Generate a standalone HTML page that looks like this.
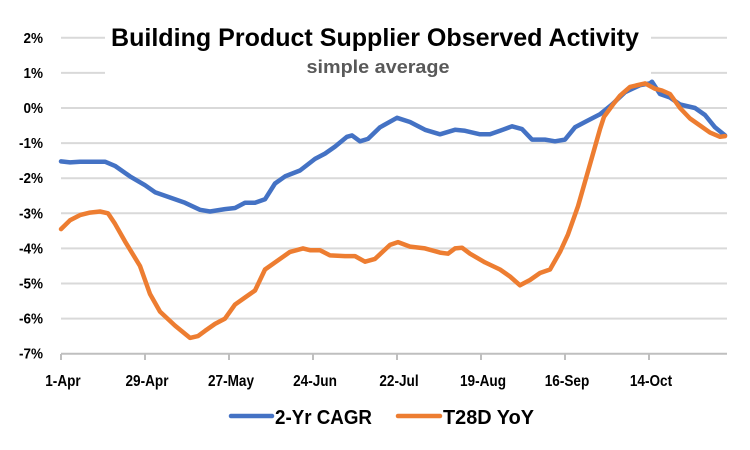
<!DOCTYPE html>
<html><head><meta charset="utf-8"><style>
body{margin:0;background:#fff;}
svg{display:block;font-family:"Liberation Sans",sans-serif;}
</style></head><body>
<svg id="chart" width="750" height="450"></svg>
<script>
const yTicks=[2,1,0,-1,-2,-3,-4,-5,-6,-7];
const xTickLabels=["1-Apr","29-Apr","27-May","24-Jun","22-Jul","19-Aug","16-Sep","14-Oct"];
const xTickDays=[0,28,56,84,112,140,168,196];
const blueX=[61,70,80,105,115,130,145,155,170,185,200,210,225,235,245,255,265,275,285,300,315,325,335,347,352,360,368,380,397,410,425,440,455,465,480,490,500,512,522,532,545,555,565,575,585,600,612,625,640,650,652,660,670,680,695,705,715,725];
const blueY=[-1.52,-1.55,-1.53,-1.53,-1.65,-1.95,-2.2,-2.4,-2.55,-2.7,-2.9,-2.95,-2.88,-2.85,-2.7,-2.7,-2.6,-2.15,-1.95,-1.78,-1.45,-1.3,-1.1,-0.82,-0.78,-0.95,-0.88,-0.55,-0.28,-0.4,-0.62,-0.75,-0.62,-0.65,-0.75,-0.75,-0.65,-0.52,-0.6,-0.9,-0.9,-0.95,-0.9,-0.55,-0.4,-0.18,0.1,0.45,0.65,0.7,0.75,0.4,0.3,0.1,0,-0.2,-0.55,-0.78];
const orangeX=[61,70,80,90,100,108,115,125,140,150,160,175,190,198,205,215,225,235,245,255,265,275,290,303,310,320,330,345,355,365,375,390,398,410,425,440,448,455,462,470,485,500,510,520,530,540,550,560,568,578,590,600,604,613,620,630,645,655,662,670,680,690,700,710,720,725];
const orangeY=[-3.45,-3.2,-3.05,-2.98,-2.95,-3.0,-3.3,-3.8,-4.5,-5.3,-5.8,-6.2,-6.55,-6.5,-6.35,-6.15,-6.0,-5.6,-5.4,-5.2,-4.6,-4.4,-4.1,-4.0,-4.05,-4.05,-4.2,-4.22,-4.22,-4.38,-4.3,-3.9,-3.82,-3.95,-4.0,-4.12,-4.15,-4.0,-3.98,-4.15,-4.4,-4.6,-4.8,-5.05,-4.9,-4.7,-4.6,-4.1,-3.6,-2.8,-1.6,-0.6,-0.25,0.1,0.35,0.6,0.7,0.55,0.5,0.4,0.0,-0.3,-0.5,-0.7,-0.82,-0.8];
const NS="http://www.w3.org/2000/svg";
const svg=document.getElementById('chart');
const X0=61,X1=727;
function yPos(v){return 108-v*35.1;}
function xDay(d){return 61+3*d;}
function el(t,a,txt){const e=document.createElementNS(NS,t);for(const k in a)e.setAttribute(k,a[k]);if(txt!==undefined)e.textContent=txt;svg.appendChild(e);return e;}
yTicks.forEach(v=>{
 const g=el('line',{x1:X0,x2:X1,y1:yPos(v),y2:yPos(v),stroke:v===-7?'#bfbfbf':'#d9d9d9','stroke-width':2});
 
 
 const t=el('text',{x:43,y:yPos(v)+5,'text-anchor':'end','font-size':15,'font-weight':'bold',fill:'#000',transform:'translate(43,0) scale(0.9,1) translate(-43,0)'},v+'%');
 
 
});
xTickDays.forEach((d,i)=>{
 const tk=el('line',{x1:xDay(d),x2:xDay(d),y1:354,y2:360,stroke:'#bfbfbf','stroke-width':2});
 
 
 const cx=xDay(d)+2;
 const t=el('text',{x:cx,y:386,'text-anchor':'middle','font-size':16,'font-weight':'bold',fill:'#000',transform:'translate('+cx+',0) scale(0.85,1) translate('+(-cx)+',0)'},xTickLabels[i]);
 
 
});
const bg=el('rect',{x:105,y:12,width:546,height:80,fill:'#fff'});


const title=el('text',{x:375,y:46,'text-anchor':'middle','font-size':25,'font-weight':'bold',fill:'#000',textLength:528,lengthAdjust:'spacingAndGlyphs'},'Building Product Supplier Observed Activity');


const sub=el('text',{x:378,y:73,'text-anchor':'middle','font-size':18,'font-weight':'bold',fill:'#595959',textLength:143,lengthAdjust:'spacingAndGlyphs'},'simple average');


function pts(xs,ys){return xs.map((x,i)=>x+','+yPos(ys[i]).toFixed(1)).join(' ');}
const bl=el('polyline',{points:pts(blueX,blueY),fill:'none',stroke:'#4472c4','stroke-width':4.5,'stroke-linejoin':'round','stroke-linecap':'round'});


const ol=el('polyline',{points:pts(orangeX,orangeY),fill:'none',stroke:'#ed7d31','stroke-width':4.5,'stroke-linejoin':'round','stroke-linecap':'round'});


const l1=el('line',{x1:231,x2:272,y1:416,y2:416,stroke:'#4472c4','stroke-width':4.5,'stroke-linecap':'round'});


const t1=el('text',{x:275,y:424,'font-size':20,'font-weight':'bold',fill:'#000',textLength:97,lengthAdjust:'spacingAndGlyphs'},'2-Yr CAGR');


const l2=el('line',{x1:398,x2:440,y1:416,y2:416,stroke:'#ed7d31','stroke-width':4.5,'stroke-linecap':'round'});


const t2=el('text',{x:443,y:424,'font-size':20,'font-weight':'bold',fill:'#000',textLength:91,lengthAdjust:'spacingAndGlyphs'},'T28D YoY');


</script>
</body></html>
